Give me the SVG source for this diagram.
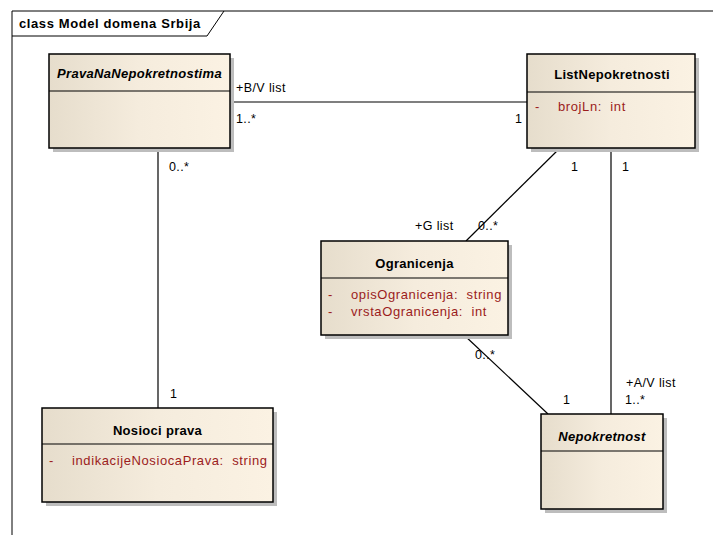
<svg xmlns="http://www.w3.org/2000/svg" width="713" height="535" viewBox="0 0 713 535">
<defs>
<linearGradient id="g" x1="0" y1="0" x2="1" y2="0">
<stop offset="0" stop-color="#e6ddcc"/>
<stop offset="0.5" stop-color="#f5ecdd"/>
<stop offset="1" stop-color="#fbf2e3"/>
</linearGradient>
<style>
.box{fill:url(#g);stroke:#000;stroke-width:1.5}
.sh{fill:#bdbdbd}
.div{stroke:#000;stroke-width:1.2}
.cn{font:bold 13px "Liberation Sans",Arial,sans-serif;fill:#000;text-anchor:middle;letter-spacing:0.3px}
.it{font-style:italic}
.at{font:13px "Liberation Sans",Arial,sans-serif;fill:#9b1c1c;letter-spacing:0.6px;white-space:pre}
.lb{font:12.5px "Liberation Sans",Arial,sans-serif;fill:#000;letter-spacing:0.4px}
.ln{stroke:#000;stroke-width:1.2;fill:none}
</style>
</defs>
<rect width="713" height="535" fill="#fff"/>
<g id="frame">
<path d="M12 535 V11 H713" fill="none" stroke="#000" stroke-width="1"/>
<path d="M12 36 H207 L224 11" fill="none" stroke="#000" stroke-width="1"/>
<text x="19" y="28" style="font:bold 13px 'Liberation Sans',Arial,sans-serif;letter-spacing:0.6px">class Model domena Srbija</text>
</g>
<g id="connectors">
<line class="ln" x1="230" y1="102" x2="527" y2="102"/>
<line class="ln" x1="158" y1="148" x2="158" y2="408"/>
<line class="ln" x1="560" y1="148" x2="466" y2="241"/>
<line class="ln" x1="611" y1="148" x2="611" y2="414"/>
<line class="ln" x1="464" y1="335" x2="548" y2="414"/>
<text class="lb" x="236" y="92">+B/V list</text>
<text class="lb" x="236" y="123">1..*</text>
<text class="lb" x="515" y="123">1</text>
<text class="lb" x="169" y="171">0..*</text>
<text class="lb" x="170" y="398">1</text>
<text class="lb" x="571" y="171">1</text>
<text class="lb" x="622" y="171">1</text>
<text class="lb" x="415" y="230">+G list</text>
<text class="lb" x="478" y="230">0..*</text>
<text class="lb" x="475" y="359">0..*</text>
<text class="lb" x="563" y="404">1</text>
<text class="lb" x="626" y="387">+A/V list</text>
<text class="lb" x="625" y="404">1..*</text>
</g>
<g id="PravaNaNepokretnostima">
<rect class="sh" x="53" y="58" width="181" height="94"/>
<rect class="box" x="49" y="54" width="181" height="94"/>
<line class="div" x1="49" y1="91" x2="230" y2="91"/>
<text class="cn it" x="139.5" y="78">PravaNaNepokretnostima</text>
</g>
<g id="ListNepokretnosti">
<rect class="sh" x="531" y="58" width="168" height="94"/>
<rect class="box" x="527" y="54" width="168" height="94"/>
<line class="div" x1="527" y1="92" x2="695" y2="92"/>
<text class="cn" x="612" y="79">ListNepokretnosti</text>
<text class="at" x="535" y="111">-</text>
<text class="at" x="558" y="111">brojLn:  int</text>
</g>
<g id="Ogranicenja">
<rect class="sh" x="325" y="245" width="187" height="94"/>
<rect class="box" x="321" y="241" width="187" height="94"/>
<line class="div" x1="321" y1="278" x2="508" y2="278"/>
<text class="cn" x="414.5" y="268">Ogranicenja</text>
<text class="at" x="328" y="299">-</text>
<text class="at" x="351" y="299">opisOgranicenja:  string</text>
<text class="at" x="328" y="316">-</text>
<text class="at" x="351" y="316">vrstaOgranicenja:  int</text>
</g>
<g id="NosiociPrava">
<rect class="sh" x="46" y="412" width="231" height="94"/>
<rect class="box" x="42" y="408" width="231" height="94"/>
<line class="div" x1="42" y1="444" x2="273" y2="444"/>
<text class="cn" x="157.5" y="435">Nosioci prava</text>
<text class="at" x="49" y="465">-</text>
<text class="at" x="72" y="465">indikacijeNosiocaPrava:  string</text>
</g>
<g id="Nepokretnost">
<rect class="sh" x="545" y="418" width="122" height="95"/>
<rect class="box" x="541" y="414" width="122" height="95"/>
<line class="div" x1="541" y1="451" x2="663" y2="451"/>
<text class="cn it" x="602" y="441">Nepokretnost</text>
</g>
</svg>
